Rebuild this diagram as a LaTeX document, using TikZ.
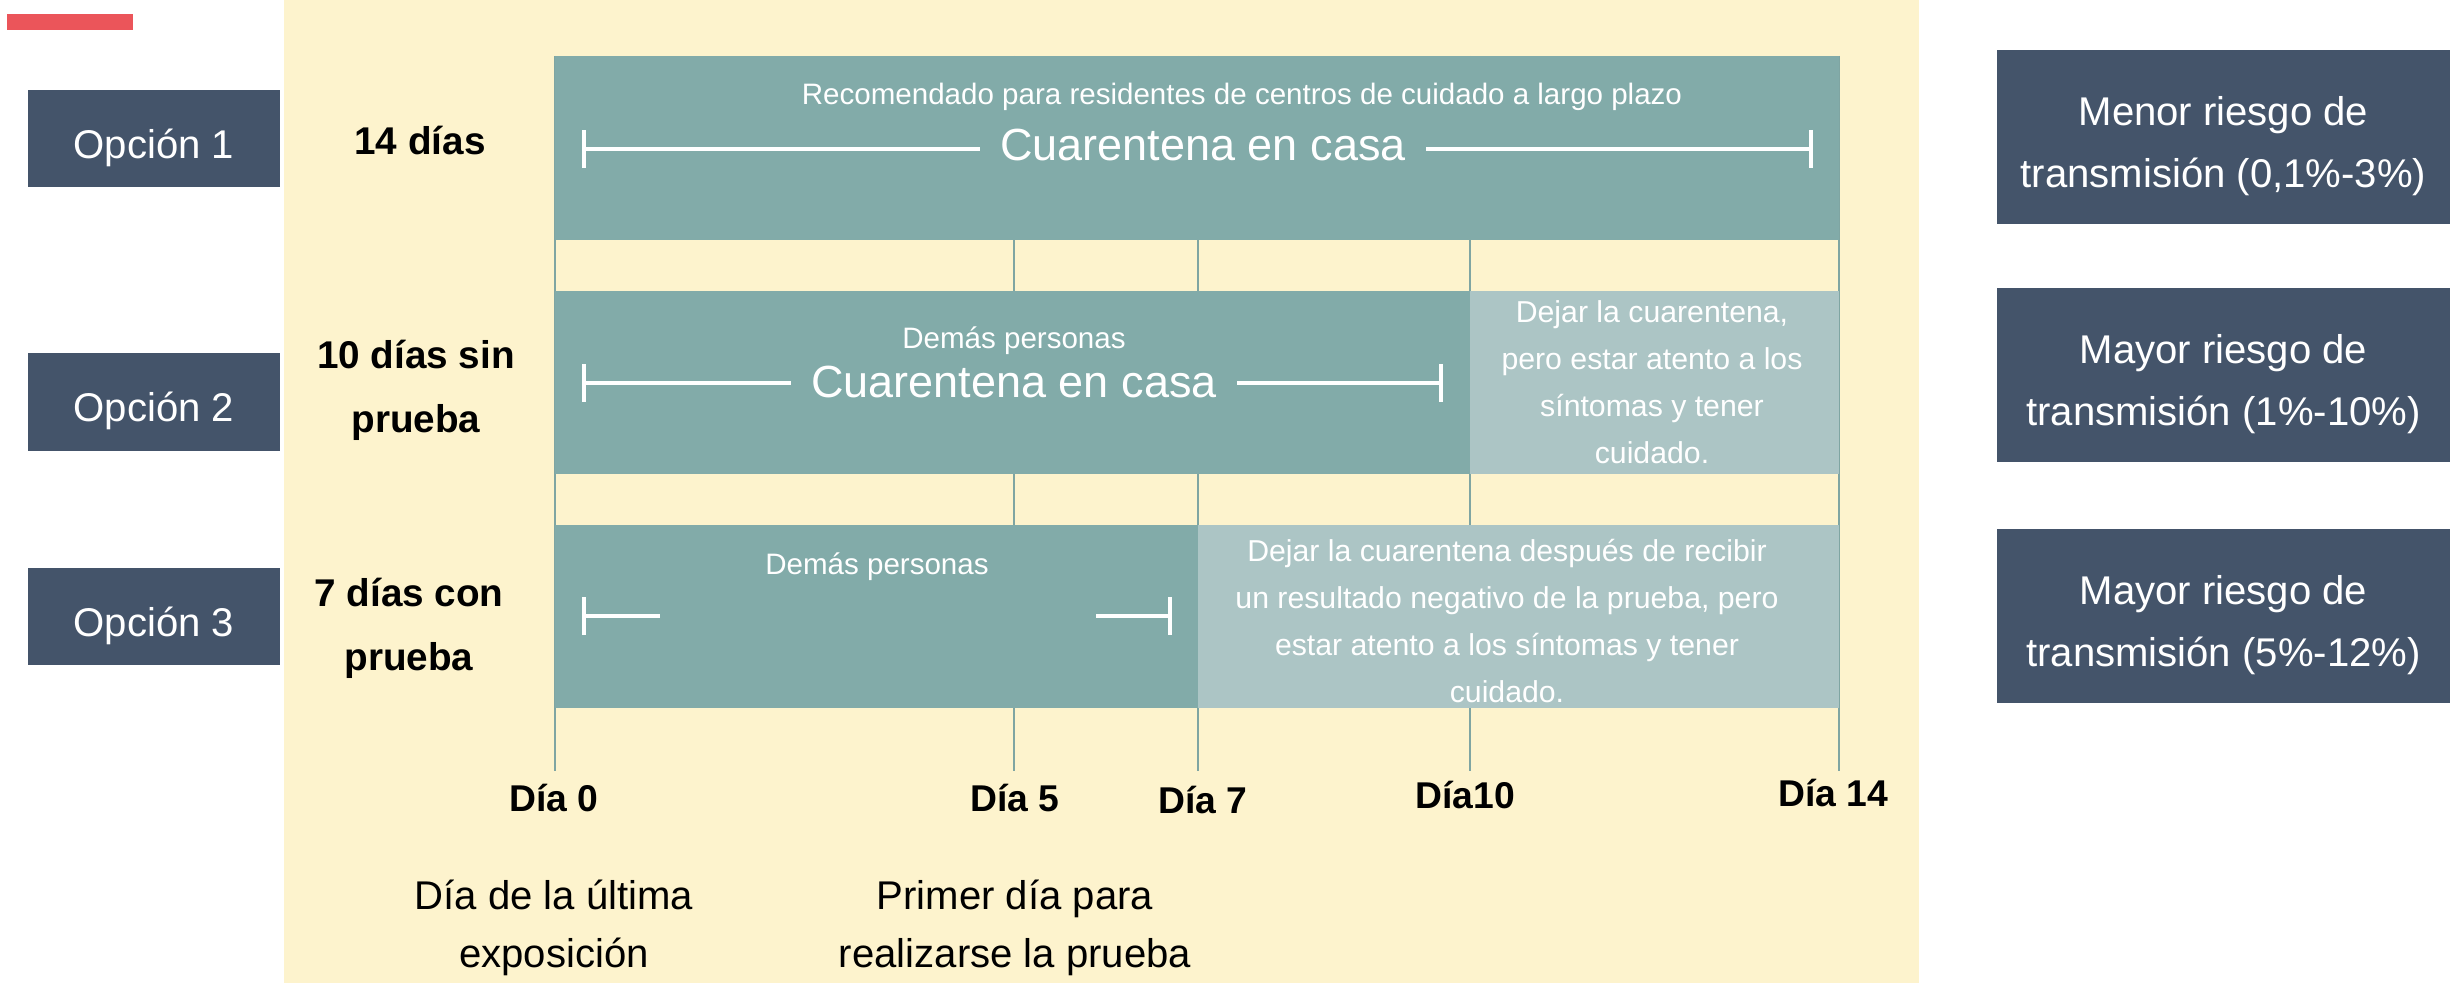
\documentclass[tikz,border=0pt]{standalone}
\usepackage{fontspec}
\setmainfont{Liberation Sans}
\usetikzlibrary{arrows.meta}
\definecolor{cream}{HTML}{FDF3CD}
\definecolor{tealA}{HTML}{82ABA9}
\definecolor{tealB}{HTML}{ACC5C5}
\definecolor{navy}{HTML}{44546A}
\definecolor{redbar}{HTML}{EB555A}
\definecolor{tealline}{HTML}{7FA5A2}
\tikzset{
  optbox/.style={fill=navy, text=white, minimum width=2.52cm, minimum height=0.97cm, inner sep=0pt,
    font=\fontsize{11.4pt}{14pt}\selectfont},
  riskbox/.style={fill=navy, text=white, minimum width=4.53cm, minimum height=1.73cm, inner sep=0pt,
    align=center, font=\fontsize{11.4pt}{17.5pt}\selectfont},
  boxtext/.style={fill=none, yshift=-0.09cm},
  durlbl/.style={text=black, align=center, inner sep=0pt, font=\bfseries\fontsize{11pt}{18.2pt}\selectfont},
  daylbl/.style={text=black, inner sep=0pt, font=\bfseries\fontsize{10.6pt}{12pt}\selectfont},
  notelbl/.style={text=black, align=center, inner sep=0pt, font=\fontsize{11.4pt}{16.5pt}\selectfont},
  smalltxt/.style={text=white, inner sep=0pt, font=\fontsize{8.4pt}{10pt}\selectfont},
  lighttxt/.style={text=white, align=center, inner sep=0pt, font=\fontsize{8.6pt}{13.4pt}\selectfont},
  bigtxt/.style={text=white, inner ysep=0pt, inner xsep=0.2cm, font=\fontsize{12.8pt}{14pt}\selectfont},
  barline/.style={white, line width=1.1pt},
  endtick/.tip={Bar[width=0.38cm]},
  daytick/.style={tealline, line width=0.6pt},
  darkblock/.style={fill=tealA},
  lightblock/.style={fill=tealB},
}
\begin{document}
\begin{tikzpicture}[x=0.01cm, y=-0.01cm]
\useasboundingbox (0,0) rectangle (2450,983);
% background panel
\fill[cream] (284,0) rectangle (1919,983);
% red accent bar
\fill[redbar] (7,14) rectangle (133,30);

% day grid lines
\foreach \n/\xx in {d0/555, d5/1014, d7/1198, d10/1470, d14/1839}{
  \coordinate (\n top) at (\xx,56);
  \coordinate (\n bot) at (\xx,771);
  \draw[daytick] (\n top) -- (\n bot);
}

% blocks
\fill[darkblock] (555,56) rectangle (1839,240);
\fill[darkblock] (555,291) rectangle (1470,474);
\fill[lightblock] (1470,291) rectangle (1839,474);
\fill[darkblock] (555,525) rectangle (1198,708);
\fill[lightblock] (1198,525) rectangle (1839,708);

% left option boxes
\node[optbox] (o1) at (154,138.5) {};
\node[optbox] (o2) at (154,402) {};
\node[optbox] (o3) at (154,616.5) {};
\node[optbox, boxtext] (o1t) at (o1.center) {Opción 1};
\node[optbox, boxtext] (o2t) at (o2.center) {Opción 2};
\node[optbox, boxtext] (o3t) at (o3.center) {Opción 3};

% durations
\node[durlbl] (l1) at (420,141) {14 días};
\node[durlbl] (l2) at (416,390) {10 días sin\\prueba};
\node[durlbl] (l3) at (409,628) {7 días con\\prueba};

% right risk boxes
\node[riskbox] (r1) at (2223.5,137) {};
\node[riskbox] (r2) at (2223.5,375) {};
\node[riskbox] (r3) at (2223.5,616) {};
\node[riskbox, boxtext] (r1t) at (r1.center) {Menor riesgo de\\transmisión (0,1\%-3\%)};
\node[riskbox, boxtext] (r2t) at (r2.center) {Mayor riesgo de\\transmisión (1\%-10\%)};
\node[riskbox, boxtext] (r3t) at (r3.center) {Mayor riesgo de\\transmisión (5\%-12\%)};

% block 1
\node[smalltxt] (rec) at (1242,97) {Recomendado para residentes de centros de cuidado a largo plazo};
\node[bigtxt] (cq1) at (1203,145) {Cuarentena en casa};
\coordinate (b1l) at (582,149);
\coordinate (b1r) at (1813,149);
\draw[barline, endtick-] (b1l) -- (b1l -| cq1.west);
\draw[barline, -endtick] (b1r -| cq1.east) -- (b1r);

% block 2
\node[smalltxt] (dp2) at (1014,341) {Demás personas};
\node[bigtxt] (cq2) at (1014,382) {Cuarentena en casa};
\coordinate (b2l) at (582,383);
\coordinate (b2r) at (1443,383);
\draw[barline, endtick-] (b2l) -- (b2l -| cq2.west);
\draw[barline, -endtick] (b2r -| cq2.east) -- (b2r);
\node[lighttxt] (lt2) at (1652,382) {Dejar la cuarentena,\\pero estar atento a los\\síntomas y tener\\cuidado.};

% block 3
\node[smalltxt] (dp3) at (877,567) {Demás personas};
\coordinate (b3l) at (582,616);
\coordinate (b3a) at (660,616);
\coordinate (b3b) at (1096,616);
\coordinate (b3r) at (1172,616);
\draw[barline, endtick-] (b3l) -- (b3a);
\draw[barline, -endtick] (b3b) -- (b3r);
\node[lighttxt] (lt3) at (1507,621) {Dejar la cuarentena después de recibir\\un resultado negativo de la prueba, pero\\estar atento a los síntomas y tener\\cuidado.};

% day labels
\node[daylbl] (t0) at (554,798) {Día 0};
\node[daylbl] (t5) at (1015,798) {Día 5};
\node[daylbl] (t7) at (1203,800) {Día 7};
\node[daylbl] (t10) at (1465,795) {Día10};
\node[daylbl] (t14) at (1833,793) {Día 14};

% notes
\node[notelbl] (n0) at (554,928) {Día de la última\\exposición};
\node[notelbl] (n5) at (1015,928) {Primer día para\\realizarse la prueba};
\end{tikzpicture}
\end{document}
